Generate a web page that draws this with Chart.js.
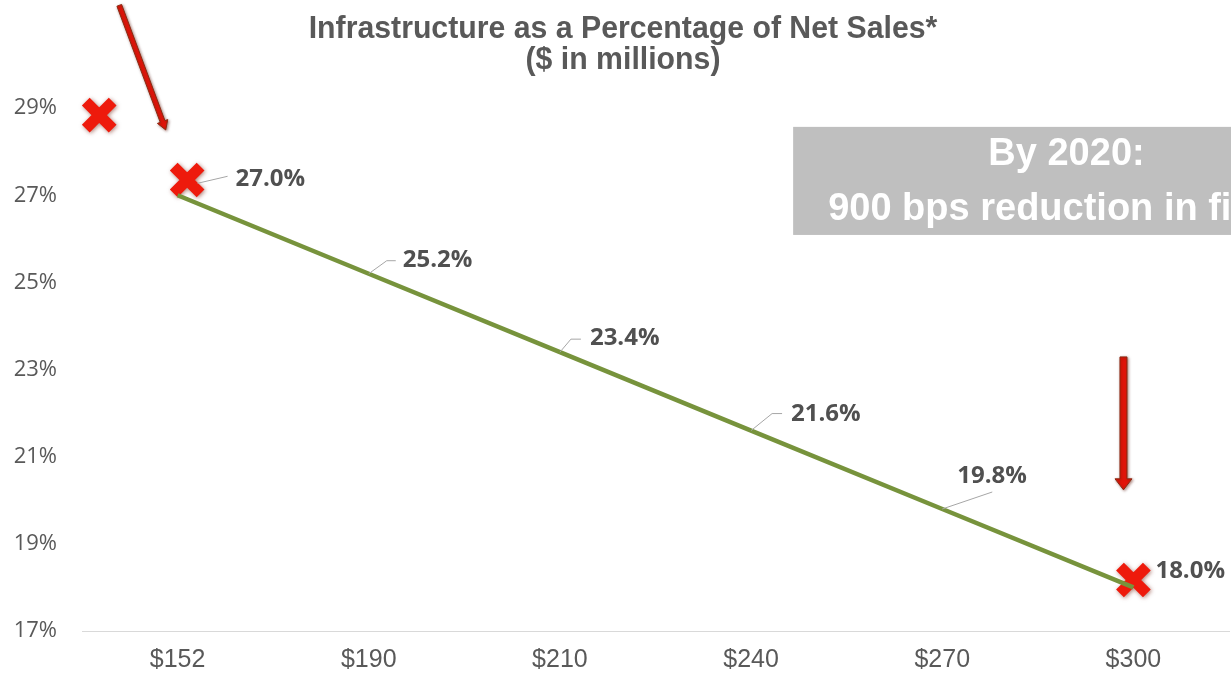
<!DOCTYPE html>
<html>
<head>
<meta charset="utf-8">
<script src="https://cdn.jsdelivr.net/npm/chart.js@4/dist/chart.umd.min.js"></script>
<style>
  html,body{margin:0;padding:0;background:#fff;}
  #wrap{width:1231px;height:675px;position:relative;}
</style>
</head>
<body>
<div id="wrap"><canvas id="c" width="1231" height="675"></canvas></div>
<script>
// ---- data ----
const categories = ['$152', '$190', '$210', '$240', '$270', '$300'];
const infraPct = [27.0, 25.2, 23.4, 21.6, 19.8, 18.0];
const yTickValues = [17, 19, 21, 23, 25, 27, 29];
// red "X" markers (category index, percent)
const markerX = [-0.41, 0.05, 5.0];
const markerY = [28.84, 27.35, 18.17];
const titleLines = ['Infrastructure as a Percentage of Net Sales*', '($ in millions)'];
const calloutLines = ['By 2020:', '900 bps reduction in fixed costs'];

const linePoints = infraPct.map((v, i) => ({x: i, y: v}));
const markerPoints = markerX.map((x, i) => ({x: x, y: markerY[i]}));

// label placement (pixel offsets from the data point): label left/center, leader path
const labelLayout = [
  {dx: 58, dy: -16, lead: [[20,-12],[50,-19]]},
  {dx: 34, dy: -14, lead: [[0,0],[18,-13],[27,-13]]},
  {dx: 30, dy: -14, lead: [[0,0],[11,-13],[21,-13]]},
  {dx: 40, dy: -16, lead: [[0,0],[21,-17],[31,-17]]},
  {dx: 15, dy: -33, lead: [[0,0],[50,-17]]},
  {dx: 22, dy: -16, lead: null}
];

function arrow(ctx, x1, y1, x2, y2, w, hw, hl) {
  const ang = Math.atan2(y2 - y1, x2 - x1);
  const bx = x2 - Math.cos(ang) * hl, by = y2 - Math.sin(ang) * hl;
  const nx = -Math.sin(ang), ny = Math.cos(ang);
  ctx.beginPath();
  ctx.moveTo(x1 + nx * w / 2, y1 + ny * w / 2);
  ctx.lineTo(bx + nx * w / 2, by + ny * w / 2);
  ctx.lineTo(bx + nx * hw / 2, by + ny * hw / 2);
  ctx.lineTo(x2, y2);
  ctx.lineTo(bx - nx * hw / 2, by - ny * hw / 2);
  ctx.lineTo(bx - nx * w / 2, by - ny * w / 2);
  ctx.lineTo(x1 - nx * w / 2, y1 - ny * w / 2);
  ctx.closePath();
  ctx.fillStyle = '#e3150a';
  ctx.strokeStyle = '#8a2a12';
  ctx.lineWidth = 1;
  ctx.fill();
  ctx.stroke();
}

const annotations = {
  id: 'annotations',
  beforeDraw(chart) {
    const ctx = chart.ctx;
    ctx.save();
    ctx.fillStyle = '#595959';
    ctx.font = 'bold 32px "Liberation Sans", Arial, sans-serif';
    ctx.textBaseline = 'alphabetic';
    ctx.textAlign = 'center';
    ctx.translate(623, 0);
    ctx.scale(0.945, 1);
    ctx.fillText(titleLines[0], 0, 38);
    ctx.fillText(titleLines[1], 0, 69);
    ctx.restore();
  },
  beforeDatasetsDraw(chart) {
    const {ctx, scales: {x, y}} = chart;
    // grey callout box
    const bx = x.getPixelForValue(3.22), by1 = y.getPixelForValue(28.57), by2 = y.getPixelForValue(26.09);
    ctx.save();
    ctx.fillStyle = '#bfbfbf';
    ctx.fillRect(bx, by1, chart.width - bx + 10, by2 - by1);
    ctx.fillStyle = '#ffffff';
    ctx.font = 'bold 38px "Liberation Sans", Arial, sans-serif';
    ctx.textBaseline = 'alphabetic';
    ctx.textAlign = 'center';
    ctx.fillText(calloutLines[0], x.getPixelForValue(4.65), by1 + 38);
    ctx.textAlign = 'left';
    ctx.fillText(calloutLines[1], bx + 35, by1 + 93);
    ctx.restore();
  },
  beforeDatasetDraw(chart, args) {
    if (args.index === 1) {
      const ctx = chart.ctx;
      ctx.save();
      ctx.shadowColor = 'rgba(110,20,0,0.55)';
      ctx.shadowBlur = 4;
      ctx.shadowOffsetX = 1;
      ctx.shadowOffsetY = 1;
    }
  },
  afterDatasetDraw(chart, args) {
    if (args.index === 1) chart.ctx.restore();
  },
  afterDatasetsDraw(chart) {
    const {ctx, scales: {x, y}} = chart;
    const meta = chart.getDatasetMeta(0);
    ctx.save();
    // data labels with leader lines
    meta.data.forEach((pt, i) => {
      const L = labelLayout[i];
      if (L.lead) {
        ctx.beginPath();
        ctx.strokeStyle = '#a6a6a6';
        ctx.lineWidth = 1;
        L.lead.forEach((p, k) => {
          if (k === 0) ctx.moveTo(pt.x + p[0], pt.y + p[1]);
          else ctx.lineTo(pt.x + p[0], pt.y + p[1]);
        });
        ctx.stroke();
      }
      ctx.fillStyle = '#505050';
      ctx.font = 'bold 24px "Open Sans", "Liberation Sans", sans-serif';
      ctx.textAlign = 'left';
      ctx.textBaseline = 'middle';
      ctx.fillText(infraPct[i].toFixed(1) + '%', pt.x + L.dx, pt.y + L.dy);
    });
    // arrows
    ctx.shadowColor = 'rgba(90,20,0,0.5)';
    ctx.shadowBlur = 3;
    ctx.shadowOffsetX = 1;
    ctx.shadowOffsetY = 1;
    arrow(ctx, x.getPixelForValue(-0.305), y.getPixelForValue(31.36),
               x.getPixelForValue(-0.062), y.getPixelForValue(28.5), 5, 11, 9);
    arrow(ctx, x.getPixelForValue(4.948), y.getPixelForValue(23.29),
               x.getPixelForValue(4.948), y.getPixelForValue(20.24), 7, 17, 11);
    ctx.restore();
  }
};

new Chart(document.getElementById('c'), {
  type: 'line',
  data: {
    datasets: [
      {
        data: linePoints,
        borderColor: '#77933c',
        borderWidth: 4.5,
        pointRadius: 0,
        fill: false,
        tension: 0
      },
      {
        data: markerPoints,
        showLine: false,
        pointStyle: 'crossRot',
        pointRadius: 19,
        pointHoverRadius: 19,
        pointBorderWidth: 11,
        pointBorderColor: '#ee1a0c',
        pointBackgroundColor: '#ee1a0c',
        clip: false
      }
    ]
  },
  options: {
    responsive: false,
    animation: false,
    events: [],
    layout: {autoPadding: false, padding: {left: 12, right: 2, top: 82, bottom: 2}},
    plugins: {
      legend: {display: false},
      tooltip: {enabled: false},
      title: {display: false}
    },
    scales: {
      x: {
        type: 'linear',
        min: -0.5,
        max: 5.5,
        afterBuildTicks(scale) { scale.ticks = categories.map((c, i) => ({value: i})); },
        afterFit(scale) { scale.height = 42; },
        ticks: {
          callback: (v) => categories[v],
          color: '#595959',
          font: {family: '"Liberation Sans", Arial, sans-serif', size: 25},
          padding: 6,
          autoSkip: false,
          maxRotation: 0
        },
        grid: {display: false},
        border: {display: true, color: '#d9d9d9', width: 1}
      },
      y: {
        min: 17,
        max: 29.6,
        afterBuildTicks(scale) { scale.ticks = yTickValues.map(v => ({value: v})); },
        afterFit(scale) { scale.width = 70; },
        ticks: {
          callback: (v) => v + '%',
          color: '#595959',
          font: {family: '"Open Sans", sans-serif', size: 22},
          padding: 17
        },
        grid: {display: false},
        border: {display: false}
      }
    }
  },
  plugins: [annotations]
});
</script>
</body>
</html>
